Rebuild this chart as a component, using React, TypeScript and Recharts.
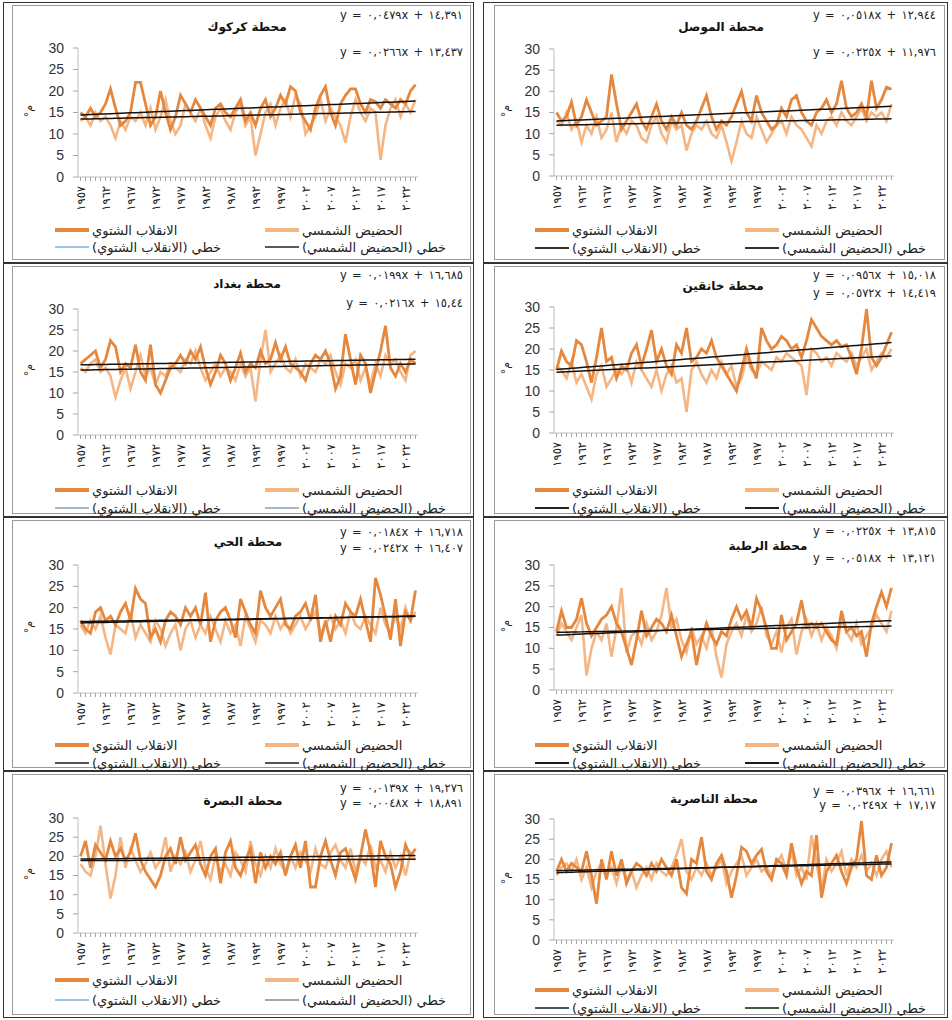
import React from "react";
import { LineChart, Line, XAxis, YAxis } from "recharts";

// years 1957 - 2024
const years = Array.from({ length: 68 }, (_, i) => 1957 + i);
const yTicks = [0, 5, 10, 15, 20, 25, 30];

const seriesNames = ["الانقلاب الشتوي", "الحضيض الشمسي", "خطي (الانقلاب الشتوي)", "خطي (الحضيض الشمسي)"];

// محطة كركوك
const kirkukWinter = [
  15, 14, 16, 14, 15, 17, 20.5, 16, 12, 13,
  15, 22, 22, 17, 12, 14, 20, 15, 11, 14,
  19, 17, 15, 18, 16, 14, 12, 16, 17, 15,
  14, 16, 18, 13, 15, 12, 16, 18, 14, 16,
  19, 17, 21, 20, 15, 13, 11, 16, 19, 21,
  15, 12, 17, 19, 20.5, 20.5, 17, 15, 18, 17.5,
  16, 18, 17, 16, 18, 17, 20, 21.5,
];
const kirkukPerihelion = [
  13, 14, 12, 15, 13, 14, 12, 9, 13, 11,
  14, 13, 15, 12, 16, 11, 14, 18, 13, 10,
  12, 17, 15, 13, 16, 12, 9, 14, 16, 13,
  11, 15, 17, 12, 14, 5, 10, 15, 17, 12,
  16, 18, 14, 19, 17, 10, 12, 14, 18, 13,
  16, 14, 12, 8, 14, 18, 15, 13, 16, 15,
  4, 12, 16, 18, 14, 17, 15, 18,
];
const kirkukEq = [[0.0479, 14.391], [0.0266, 13.437]];

// محطة الموصل
const mosulWinter = [
  15, 13, 14, 17.5, 12, 14, 18, 15, 12, 13,
  14, 24, 17, 11, 13, 15, 17, 13, 11, 14,
  17, 13, 11, 14, 12, 15, 12, 11, 13, 16,
  19, 14, 11, 13, 12, 14, 17, 20, 15, 13,
  19, 15, 13, 11, 12, 16, 14, 18, 19, 15,
  13, 12, 15, 16, 18, 15, 17, 22.5, 16, 14,
  15, 17, 14, 22.5, 16, 18, 21, 20.5,
];
const mosulPerihelion = [
  13, 12, 15, 11, 13, 8, 12, 10, 14, 9,
  11, 15, 8, 12, 10, 13, 12, 9, 8, 12,
  14, 10, 8, 13, 11, 12, 6, 10, 12, 11,
  13, 10, 9, 12, 8, 3.5, 8, 13, 10, 9,
  14, 11, 8, 10, 12, 13, 10, 14, 12, 11,
  9, 7, 12, 10, 13, 14, 12, 15, 13, 12,
  14, 16, 13, 15, 14, 15, 13, 17,
];
const mosulEq = [[0.0518, 12.944], [0.0225, 11.976]];

// محطة بغداد
const baghdadWinter = [
  17, 18, 19, 20, 16, 18, 22.5, 21, 15, 17,
  16, 21.5, 15, 13, 21.5, 12, 10, 13, 16, 17,
  19, 17, 20, 18, 21, 16, 12, 15, 19, 17,
  13, 16, 19.5, 15, 17, 16, 20, 17, 18, 22,
  18, 21, 17, 16, 15, 13, 17, 19, 18, 20,
  17, 11, 14, 24, 18, 12, 19, 17, 10, 15,
  20, 26, 16, 14, 17, 15, 18, 17,
];
const baghdadPerihelion = [
  16, 15, 17, 18, 15, 16, 14, 9, 13, 16,
  11, 15, 19, 14, 16, 12, 15, 14, 17, 16,
  15, 18, 17, 20, 16, 13, 15, 17, 14, 16,
  15, 13, 17, 14, 16, 8, 18, 25, 15, 17,
  19, 16, 15, 18, 14, 17, 16, 15, 18, 17,
  19, 15, 12, 17, 16, 18, 13, 16, 12, 17,
  14, 19, 17, 18, 15, 13, 19, 20,
];
const baghdadEq = [[0.0199, 16.685], [0.0216, 15.44]];

// محطة خانقين
const khanaqinWinter = [
  15, 19.5, 17, 16, 22, 21, 17, 12, 18, 25,
  17, 18, 13, 16, 15, 19, 21, 16, 20, 24.5,
  17, 20, 16, 14, 21, 19, 25, 17, 18, 20,
  19, 22, 18, 16, 14, 12, 10, 15, 20, 16,
  13, 25, 22, 20, 21, 23, 22, 20, 21, 18,
  22, 27, 25, 23, 22, 21, 22, 20.5, 21, 18,
  14, 20, 29.5, 18, 16, 18, 21, 24,
];
const khanaqinPerihelion = [
  16, 15, 13, 17, 12, 14, 11, 8, 14, 16,
  11, 13, 15, 14, 16, 12, 17, 15, 13, 11,
  15, 10, 14, 16, 12, 13, 5, 15, 17, 14,
  12, 15, 13, 17, 14, 16, 11, 13, 18, 15,
  14, 17, 16, 15, 18, 17, 19, 18, 17, 16,
  9, 20, 19, 17, 18, 16, 19, 18, 17, 19,
  16, 18, 20, 15, 17, 19, 18, 20,
];
const khanaqinEq = [[0.0956, 15.018], [0.0572, 14.419]];

// محطة الحي
const hayWinter = [
  17, 15, 14, 19, 20, 17, 18, 16, 19, 21,
  17, 24.5, 22, 21, 13, 15, 12, 17, 19, 18,
  16, 20, 18, 20, 16, 23.5, 12, 17, 19, 20,
  17, 13, 22, 19, 16, 14, 24, 20, 18, 20,
  22, 16, 15, 18, 19, 21, 17, 23, 12, 17,
  12, 18, 16, 21, 19, 18, 22, 17, 12, 27,
  23, 18, 12.5, 22, 11, 19, 17, 24,
];
const hayPerihelion = [
  16, 14, 17, 15, 18, 13, 9, 16, 15, 14,
  19, 13, 16, 14, 12, 17, 15, 11, 14, 16,
  10, 15, 17, 13, 16, 14, 18, 15, 12, 17,
  14, 16, 11, 18, 15, 12, 17, 16, 14, 18,
  15, 17, 14, 16, 18, 15, 17, 19, 14, 16,
  18, 15, 17, 14, 19, 16, 15, 18, 16, 14,
  20, 16, 14, 18, 15, 20, 17, 19,
];
const hayEq = [[0.0184, 16.718], [0.0242, 16.407]];

// محطة الرطبة
const rutbaWinter = [
  14, 19, 15, 15, 17, 22, 16, 13, 15, 17,
  18, 20, 16, 14, 10, 6, 12, 19, 13, 15,
  17, 16, 14, 18, 13, 8, 11, 14, 6, 12,
  16, 13, 11, 14, 13, 17, 20, 17, 19, 15,
  22, 19, 15, 10, 10, 18, 12, 14, 16, 21.5,
  15, 16, 15, 16, 14, 12, 11, 19, 14, 15,
  13, 14, 8, 16, 20, 23.5, 20, 24.5,
];
const rutbaPerihelion = [
  13, 16, 14, 12, 15, 18, 3.5, 10, 14, 12,
  16, 8, 15, 24.5, 9, 13, 14, 11, 16, 12,
  14, 18, 24.5, 15, 17, 12, 9, 15, 11, 13,
  10, 15, 8, 3, 11, 14, 16, 13, 18, 14,
  16, 20, 13, 11, 14, 9, 15, 17, 8.5, 14,
  17, 13, 16, 12, 15, 13, 10, 17, 14, 12,
  16, 11, 13, 15, 18, 16, 14, 19,
];
const rutbaEq = [[0.0225, 13.815], [0.0518, 13.121]];

// محطة البصرة
const basraWinter = [
  20, 24, 17, 23, 21, 19, 24, 20, 22, 19,
  21, 26, 19, 16, 14, 12, 15, 20, 22, 18,
  25, 19, 21, 23, 18, 15, 20, 22, 13, 21,
  24, 17, 15, 19, 22, 13, 21, 17, 20, 18,
  21, 15, 20, 23, 17, 24, 12, 12, 20, 24,
  19, 15, 21, 22, 18, 14, 20, 27, 21, 12,
  24, 20, 18, 12, 16, 23, 20, 22,
];
const basraPerihelion = [
  18, 16, 15, 20, 28, 18, 9, 15, 25, 17,
  22, 19, 16, 18, 21, 17, 19, 25, 16, 20,
  18, 21, 16, 19, 24, 17, 14, 20, 16, 18,
  15, 21, 19, 16, 24, 18, 15, 20, 17, 22,
  18, 16, 20, 17, 21, 19, 16, 22, 18, 17,
  21, 23, 19, 17, 22, 16, 20, 18, 23, 17,
  19, 16, 21, 17, 20, 15, 21, 19,
];
const basraEq = [[0.0139, 19.276], [0.0048, 18.891]];

// محطة الناصرية
const nasiriyaWinter = [
  17, 20, 17, 19, 18, 17, 22, 16, 9, 20,
  15, 22, 16, 20, 14, 17, 19, 18, 16, 19,
  17, 20, 18, 16, 20, 13, 11.5, 20, 19, 25.5,
  17, 15, 19, 21, 17, 10.5, 16, 23, 22, 19,
  21, 22.5, 17, 15, 20, 19, 16, 24, 18, 14,
  17, 16, 26, 10.5, 17, 19, 21, 17, 14, 18,
  20, 29.5, 16, 15, 21, 16, 18, 24,
];
const nasiriyaPerihelion = [
  16, 18, 19, 17, 20, 15, 18, 13, 17, 19,
  16, 18, 14, 19, 15, 17, 13, 16, 18, 15,
  19, 17, 16, 18, 21, 25, 17, 15, 18, 16,
  19, 16, 18, 20, 14, 17, 19, 21, 16, 18,
  20, 17, 18, 16, 19, 21, 17, 22, 16, 18,
  15, 26, 19, 12, 20, 17, 19, 22, 16, 20,
  18, 21, 17, 19, 16, 20, 22, 18,
];
const nasiriyaEq = [[0.0396, 16.661], [0.0249, 17.17]];

const WINTER = "#E5883E";
const PERI = "#F5B685";
const FONT = "'DejaVu Sans', sans-serif";

const cols = [
  { x: 3, w: 471, box: 12, plotX: 78, eqRight: 463, yLab: 28 },
  { x: 483, w: 465, box: 494, plotX: 554, eqRight: 936, yLab: 505 },
];
const rows = [
  { y: 2, h: 261 },
  { y: 263, h: 254 },
  { y: 517, h: 254 },
  { y: 771, h: 247 },
];

const panels = [
  { title: "محطة كركوك", winter: kirkukWinter, peri: kirkukPerihelion, eq: kirkukEq, col: 0, row: 0, top: 48, bottom: 177, tx: 247, ty: 28, eqY: [15, 52], legY: [228, 245], tc: ["#9DC3E6", "#595959"] },
  { title: "محطة الموصل", winter: mosulWinter, peri: mosulPerihelion, eq: mosulEq, col: 1, row: 0, top: 49, bottom: 176, tx: 721, ty: 28, eqY: [15, 52], legY: [228, 246], tc: ["#333333", "#333333"] },
  { title: "محطة بغداد", winter: baghdadWinter, peri: baghdadPerihelion, eq: baghdadEq, col: 0, row: 1, top: 309, bottom: 435, tx: 247, ty: 285, eqY: [275, 303], legY: [227, 245], tc: ["#A9B8CC", "#A9B8CC"] },
  { title: "محطة خانقين", winter: khanaqinWinter, peri: khanaqinPerihelion, eq: khanaqinEq, col: 1, row: 1, top: 307, bottom: 433, tx: 723, ty: 287, eqY: [275, 293], legY: [227, 245], tc: ["#222222", "#222222"] },
  { title: "محطة الحي", winter: hayWinter, peri: hayPerihelion, eq: hayEq, col: 0, row: 2, top: 565, bottom: 693, tx: 248, ty: 543, eqY: [532, 548], legY: [228, 246], tc: ["#555555", "#555555"] },
  { title: "محطة الرطبة", winter: rutbaWinter, peri: rutbaPerihelion, eq: rutbaEq, col: 1, row: 2, top: 565, bottom: 690, tx: 768, ty: 547, eqY: [531, 558], legY: [228, 246], tc: ["#1a1a1a", "#1a1a1a"] },
  { title: "محطة البصرة", winter: basraWinter, peri: basraPerihelion, eq: basraEq, col: 0, row: 3, top: 818, bottom: 933, tx: 243, ty: 802, eqY: [788, 803], legY: [209, 229], tc: ["#9DC3E6", "#A6A6A6"] },
  { title: "محطة الناصرية", winter: nasiriyaWinter, peri: nasiriyaPerihelion, eq: nasiriyaEq, col: 1, row: 3, top: 819, bottom: 940, tx: 714, ty: 800, eqY: [791, 805], legY: [219, 237], tc: ["#44546A", "#3B5E3B"] },
];

const arDigits = "٠١٢٣٤٥٦٧٨٩";
const toArabic = (s: string | number) => String(s).replace(/[0-9]/g, (d) => arDigits[Number(d)]);
const eqText = (c: number[]) =>
  `y = ${toArabic(c[0].toFixed(4).replace(".", ","))}x + ${toArabic(String(c[1]).replace(".", ","))}`;

function YearTick(props: any) {
  const { x, y, payload } = props;
  if ((payload.value - 1957) % 5 !== 0) return <g />;
  const yy = y + 3;
  return (
    <text
      x={x}
      y={yy}
      transform={`rotate(-90 ${x} ${yy})`}
      textAnchor="end"
      dy="0.35em"
      fontSize={11.5}
      letterSpacing={1}
      fontFamily={FONT}
      fill="#222"
    >
      {toArabic(payload.value)}
    </text>
  );
}

function ValueTick(props: any) {
  const { x, y, payload } = props;
  return (
    <text x={x} y={y} dy="0.35em" textAnchor="end" fontSize={14} fill="#333" fontFamily="'Liberation Sans', sans-serif">
      {payload.value}
    </text>
  );
}

function Swatch({ color, h }: { color: string; h: number }) {
  return <div style={{ width: 34, height: h, background: color, marginRight: 3, flexShrink: 0 }} />;
}

function LegendItem({ left, top, color, h, label }: any) {
  return (
    <div style={{ position: "absolute", left, top: top - 8, height: 16, display: "flex", alignItems: "center" }}>
      <Swatch color={color} h={h} />
      <span dir="rtl" style={{ fontFamily: FONT, fontSize: 13, color: "#222", whiteSpace: "nowrap" }}>
        {label}
      </span>
    </div>
  );
}

function Panel({ p }: { p: any }) {
  const c = cols[p.col];
  const r = rows[p.row];
  const plotH = p.bottom - p.top;
  const ML = 10;
  const YW = 34;
  const MT = 8;
  const XH = 46;
  const data = years.map((yr, i) => ({
    year: yr,
    w: p.winter[i],
    ph: p.peri[i],
    tw: p.eq[0][0] * (i + 1) + p.eq[0][1],
    tp: p.eq[1][0] * (i + 1) + p.eq[1][1],
  }));
  const boxRight = c.x + c.w - 3;
  return (
    <>
      <div style={{ position: "absolute", left: c.x, top: r.y, width: c.w, height: r.h, border: "1.5px solid #333", boxSizing: "border-box" }} />
      <div style={{ position: "absolute", left: c.box, top: r.y + 3, width: boxRight - c.box, height: r.h - 6, border: "1px solid #9a9a9a", boxSizing: "border-box" }} />
      <div style={{ position: "absolute", left: c.plotX - YW - ML, top: p.top - MT }}>
        <LineChart width={ML + YW + 340 + 10} height={MT + plotH + XH} data={data} margin={{ top: MT, right: 10, left: ML, bottom: 0 }}>
          <XAxis
            dataKey="year"
            interval={0}
            tick={<YearTick />}
            tickSize={4}
            tickLine={{ stroke: "#a6a6a6" }}
            axisLine={{ stroke: "#bfbfbf" }}
            height={XH}
            padding={{ left: 2.5, right: 2.5 }}
          />
          <YAxis
            type="number"
            domain={[0, 30]}
            ticks={yTicks}
            tickCount={7}
            interval={0}
            minTickGap={0}
            width={YW}
            tickSize={5}
            tickMargin={9}
            tickLine={{ stroke: "#a6a6a6" }}
            axisLine={{ stroke: "#bfbfbf" }}
            tick={<ValueTick />}
          />
          <Line dataKey="ph" stroke={PERI} strokeWidth={2.6} dot={false} isAnimationActive={false} />
          <Line dataKey="w" stroke={WINTER} strokeWidth={2.8} dot={false} isAnimationActive={false} />
          <Line dataKey="tp" stroke="#111" strokeWidth={1.5} dot={false} isAnimationActive={false} />
          <Line dataKey="tw" stroke="#111" strokeWidth={1.5} dot={false} isAnimationActive={false} />
        </LineChart>
      </div>
      <div
        dir="rtl"
        style={{ position: "absolute", left: p.tx - 60, width: 120, top: p.ty - 8, textAlign: "center", fontFamily: FONT, fontWeight: "bold", fontSize: 12, color: "#111" }}
      >
        {p.title}
      </div>
      {p.eq.map((e: number[], k: number) => (
        <div
          key={k}
          style={{ position: "absolute", right: 952 - c.eqRight, top: p.eqY[k] - 7, fontFamily: FONT, fontSize: 11.5, lineHeight: "14px", letterSpacing: 0.8, color: "#222", whiteSpace: "nowrap" }}
        >
          {eqText(e)}
        </div>
      ))}
      <div
        style={{ position: "absolute", left: c.yLab - 10, top: (p.top + p.bottom) / 2 - 12, width: 20, height: 20, display: "flex", alignItems: "center", justifyContent: "center", transform: "rotate(-90deg)", fontFamily: FONT, fontSize: 11, color: "#222" }}
      >
        °م
      </div>
      <LegendItem left={c.x + 262} top={r.y + p.legY[0]} color={PERI} h={4} label={seriesNames[1]} />
      <LegendItem left={c.x + 52} top={r.y + p.legY[0]} color={WINTER} h={4} label={seriesNames[0]} />
      <LegendItem left={c.x + 262} top={r.y + p.legY[1]} color={p.tc[1]} h={1.5} label={seriesNames[3]} />
      <LegendItem left={c.x + 52} top={r.y + p.legY[1]} color={p.tc[0]} h={1.5} label={seriesNames[2]} />
    </>
  );
}

export default function App() {
  return (
    <div style={{ position: "absolute", left: 0, top: 0, width: 952, height: 1020, background: "#fff", overflow: "hidden" }}>
      {panels.map((p, i) => (
        <Panel key={i} p={p} />
      ))}
    </div>
  );
}
